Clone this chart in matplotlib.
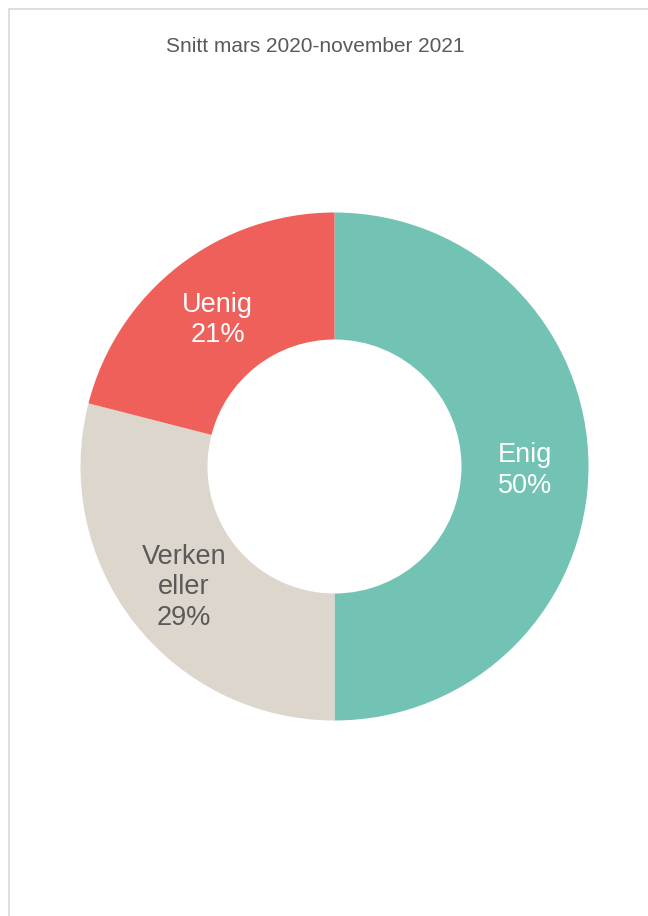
import numpy as np
import matplotlib
matplotlib.use("Agg")
import matplotlib.pyplot as plt
from matplotlib.patches import Rectangle

plt.rcParams['font.family'] = ['Liberation Sans', 'DejaVu Sans']

# Data
categories = ["Enig", "Verken\neller", "Uenig"]
values = [50, 29, 21]
colors = ["#72C3B4", "#DDD6CC", "#F0605B"]
text_colors = ["white", "#595959", "white"]
title = "Snitt mars 2020-november 2021"

fig = plt.figure(figsize=(6.48, 9.16), dpi=100)

# light grey chart border (only top/left visible in the crop)
fig.patches.append(Rectangle((8.5 / 648, -0.1), 1.2, 1.1 - 9.5 / 916,
                             transform=fig.transFigure, fill=False,
                             edgecolor="#D9D9D9", linewidth=1.2))

fig.text(315 / 648, 1 - 46 / 916, title, ha="center", va="center",
         fontsize=15, color="#595959")

# donut axes
ax = fig.add_axes([80.5 / 648, 195.5 / 916, 508 / 648, 508 / 916])
wedges, _ = ax.pie(values, colors=colors, startangle=90, counterclock=False,
                   radius=1, wedgeprops=dict(width=0.5, edgecolor="none"))

# labels in the middle of the ring
for w, cat, val, tc in zip(wedges, categories, values, text_colors):
    ang = np.deg2rad((w.theta1 + w.theta2) / 2)
    r = 0.75
    ax.annotate(f"{cat}\n{val}%", (r * np.cos(ang), r * np.sin(ang)),
                xytext=(0, -3), textcoords="offset points",
                ha="center", va="center", fontsize=19.5, color=tc,
                linespacing=1.22)

ax.set_xlim(-1, 1)
ax.set_ylim(-1, 1)
ax.set_aspect("equal")
ax.axis("off")

fig.savefig("out.png", dpi=100)
